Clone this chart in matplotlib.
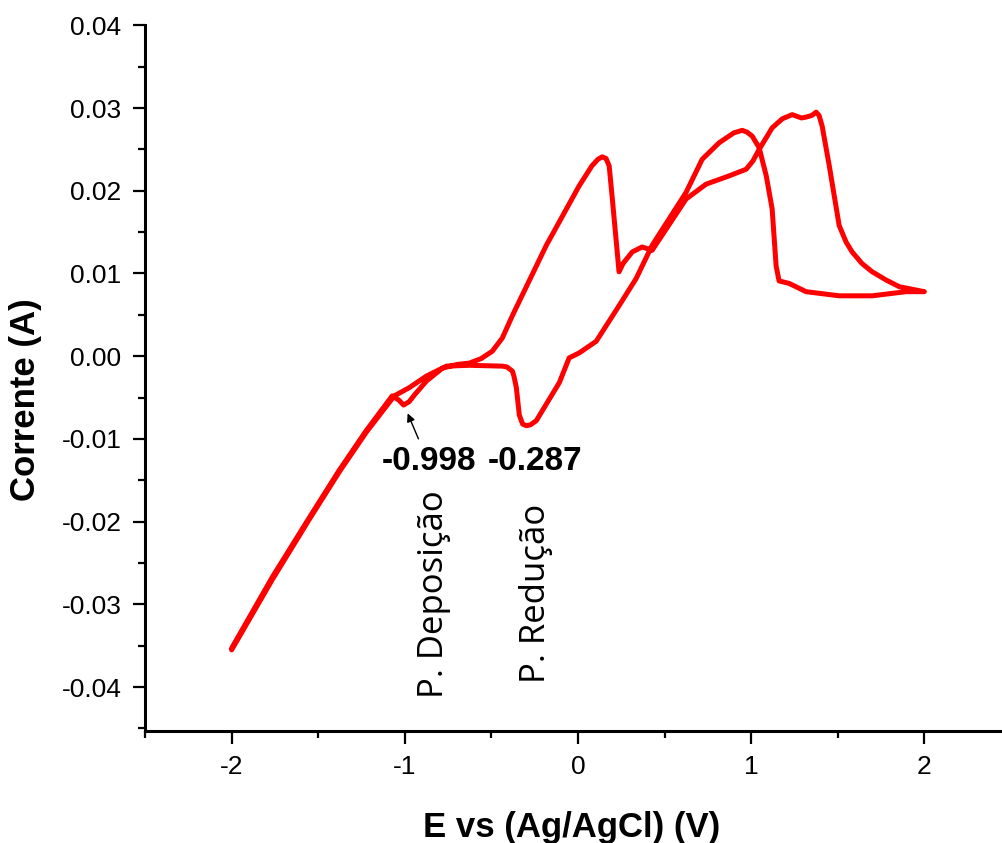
import numpy as np
import matplotlib.pyplot as plt

plt.rcParams["font.family"] = ["Liberation Sans", "DejaVu Sans"]

# anodic scan, -2 V -> 2 V
e_fwd = [-2.000, -1.765, -1.551, -1.379, -1.223, -1.073, -1.035, -1.007, -0.975,
         -0.945, -0.875, -0.783, -0.700, -0.627, -0.560, -0.495, -0.437, -0.379,
         -0.183, 0.007, 0.080, 0.115, 0.140, 0.162, 0.180, 0.197, 0.237, 0.260,
         0.313, 0.370, 0.400, 0.428, 0.624, 0.740, 0.873, 0.971, 1.010, 1.046,
         1.121, 1.180, 1.237, 1.290, 1.317, 1.350, 1.375, 1.392, 1.410, 1.451,
         1.508, 1.548, 1.583, 1.640, 1.699, 1.780, 1.855, 2.000]
i_fwd = [-0.0353, -0.0267, -0.0195, -0.0138, -0.0090, -0.0048, -0.0053, -0.0059, -0.0055,
         -0.0047, -0.0030, -0.00145, -0.0010, -0.00083, -0.0003, 0.0006, 0.0022, 0.0049,
         0.0134, 0.0206, 0.0230, 0.0238, 0.0241, 0.0239, 0.0230, 0.0193, 0.0102, 0.0112,
         0.0126, 0.0132, 0.0130, 0.0128, 0.0190, 0.0208, 0.0218, 0.0226, 0.0236, 0.0250,
         0.0276, 0.0287, 0.0292, 0.0288, 0.0289, 0.0291, 0.0295, 0.0291, 0.0278, 0.0230,
         0.0158, 0.0138, 0.0126, 0.0112, 0.0102, 0.0092, 0.0084, 0.0078]

# cathodic scan, 2 V -> -2 V
e_rev = [2.000, 1.895, 1.699, 1.508, 1.317, 1.219, 1.161, 1.144, 1.121,
         1.087, 1.046, 1.006, 0.975, 0.948, 0.900, 0.815, 0.717, 0.624, 0.526,
         0.428, 0.336, 0.237, 0.105, 0.007, -0.051, -0.108, -0.241, -0.275,
         -0.298, -0.320, -0.339, -0.356, -0.370, -0.379, -0.410, -0.437, -0.627,
         -0.760, -0.875, -0.974, -1.061, -1.223, -1.379, -1.551, -1.765, -2.000]
i_rev = [0.0078, 0.0078, 0.0073, 0.0073, 0.0078, 0.0088, 0.0091, 0.0109, 0.0178,
         0.0218, 0.0252, 0.0266, 0.0271, 0.0273, 0.0270, 0.0258, 0.0238, 0.0198, 0.0166,
         0.0134, 0.0094, 0.0061, 0.0018, 0.0004, -0.0002, -0.0032, -0.0078, -0.0083,
         -0.0084, -0.0082, -0.0071, -0.0038, -0.0024, -0.0018, -0.0013, -0.0012, -0.0011,
         -0.0012, -0.0024, -0.0038, -0.0048, -0.0092, -0.0140, -0.0197, -0.0270, -0.0355]

peak_dep = -0.998
peak_red = -0.287

fig = plt.figure(figsize=(10.03, 8.43), dpi=100)
ax = fig.add_axes([0.1446, 0.1329, 0.8554, 0.8371])

e = np.concatenate([e_fwd, e_rev])
i = np.concatenate([i_fwd, i_rev])
ax.plot(e, i, color="red", lw=3.6, solid_joinstyle="round", solid_capstyle="round")

ax.set_xticks([-2, -1, 0, 1, 2])
ax.set_xticks([-2.5, -1.5, -0.5, 0.5, 1.5, 2.5], minor=True)
ax.set_yticks(np.arange(-0.04, 0.041, 0.01))
ax.set_yticks(np.arange(-0.045, 0.04, 0.01), minor=True)
ax.set_yticklabels(["%.2f" % v for v in np.arange(-0.04, 0.041, 0.01)])
ax.set_xticklabels(["-2", "-1", "0", "1", "2"])
ax.set_xlim(-2.5, 2.454)
ax.set_ylim(-0.0453, 0.04)

for s in ["top", "right"]:
    ax.spines[s].set_visible(False)
for s in ["left", "bottom"]:
    ax.spines[s].set_linewidth(2.2)

ax.tick_params(which="major", length=9, width=1.6, labelsize=19, pad=8)
ax.tick_params(which="minor", length=5, width=1.6)

ax.set_xlabel("E vs (Ag/AgCl) (V)", fontsize=25, fontweight="bold")
ax.set_ylabel("Corrente (A)", fontsize=25, fontweight="bold")
ax.xaxis.set_label_coords(0.497, -0.113)
ax.yaxis.set_label_coords(-0.12, 0.47)

ax.annotate("", xy=(-0.99, -0.0066), xytext=(-0.915, -0.0103),
            arrowprops=dict(arrowstyle="-|>", color="black", lw=1.0,
                            mutation_scale=12))
ax.text(-0.861, -0.0137, "%.3f" % peak_dep, fontsize=24, fontweight="bold",
        ha="center", va="baseline")
ax.text(-0.247, -0.0138, "%.3f" % peak_red, fontsize=24, fontweight="bold",
        ha="center", va="baseline")

ax.text(-0.830, -0.0287, "P. Deposição", rotation=90, fontsize=25,
        family="Open Sans", ha="center", va="center")
ax.text(-0.241, -0.0287, "P. Redução", rotation=90, fontsize=25,
        family="Open Sans", ha="center", va="center")

plt.savefig("out.png", dpi=100)
